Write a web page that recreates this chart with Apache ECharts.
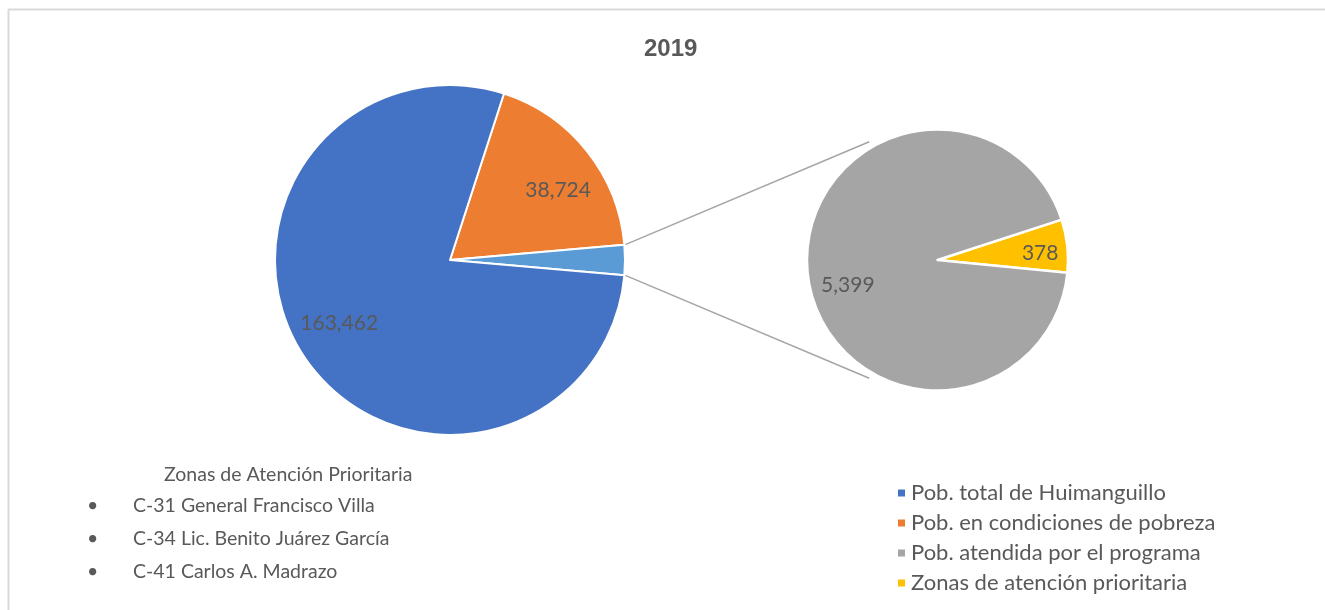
<!DOCTYPE html>
<html>
<head>
<meta charset="utf-8">
<script src="https://cdn.jsdelivr.net/npm/echarts@6/dist/echarts.min.js"></script>
<style>
  html, body { margin: 0; padding: 0; background: #ffffff; }
  #chart { width: 1325px; height: 610px; }
</style>
</head>
<body>
<div id="chart"></div>
<script>
// Population breakdown, Huimanguillo 2019
const titleText = '2019';
const categories = [
  'Pob. total de Huimanguillo',
  'Pob. en condiciones de pobreza',
  'Pob. atendida por el programa',
  'Zonas de atención prioritaria'
];
const primaryValues = [163462, 38724];      // total, pobreza
const secondaryValues = [5399, 378];        // atendida, zonas
const groupName = 'Pob. atendida y zonas';
const zonesHeading = 'Zonas de Atención Prioritaria';
const zoneItems = [
  'C-31 General Francisco Villa',
  'C-34 Lic. Benito Juárez García',
  'C-41 Carlos A. Madrazo'
];

const colors = {
  total: '#4472C4',
  pobreza: '#ED7D31',
  group: '#5B9BD5',
  atendida: '#A5A5A5',
  zonas: '#FFC000'
};
const textColor = '#595959';
const font = 'Lato, "Open Sans", sans-serif';

// geometry of the two pies
const mainCenter = [450, 260], mainR = 175;
const subCenter = [937.5, 260], subR = 130.5;

const groupValue = secondaryValues[0] + secondaryValues[1];
const mainTotal = primaryValues[0] + primaryValues[1] + groupValue;
const pobDeg = primaryValues[1] / mainTotal * 360;
const groupDeg = groupValue / mainTotal * 360;
// the grouped slice is centred on the 3 o'clock direction
const mainStart = pobDeg + groupDeg / 2;
const subStart = 18;

const fmt = v => v.toLocaleString('en-US');

const mainData = [
  { name: categories[1], value: primaryValues[1], itemStyle: { color: colors.pobreza } },
  { name: groupName, value: groupValue, itemStyle: { color: colors.group }, label: { show: false } },
  { name: categories[0], value: primaryValues[0], itemStyle: { color: colors.total } }
];
const subData = [
  { name: categories[3], value: secondaryValues[1], itemStyle: { color: colors.zonas } },
  { name: categories[2], value: secondaryValues[0], itemStyle: { color: colors.atendida } }
];

// best-fit nudges for the value labels, per slice
const mainNudge = [[6, 12], [0, 0], [-2, -9]];
const subNudge = [[3, 4], [10, 14]];

function labelOverlay(center, radius, start, data, nudge) {
  return {
    type: 'pie',
    center: center,
    radius: radius,
    startAngle: start,
    silent: true,
    legendHoverLink: false,
    z: 5,
    animation: false,
    itemStyle: { color: 'rgba(0,0,0,0)', borderWidth: 0 },
    label: {
      show: true,
      position: 'inside',
      formatter: p => fmt(p.value),
      color: textColor,
      fontFamily: font,
      fontSize: 21
    },
    labelLayout: p => ({ dx: nudge[p.dataIndex][0], dy: nudge[p.dataIndex][1] }),
    emphasis: { disabled: true },
    data: data.map(d => ({ name: d.name, value: d.value, label: d.label }))
  };
}

// connector lines from the grouped slice edges to the secondary pie
const rad = Math.PI / 180;
const halfGroup = groupDeg / 2 * rad;
const connAngle = 120 * rad;
const connectors = [1, -1].map(s => ({
  type: 'line',
  shape: {
    x1: mainCenter[0] + (mainR + 1) * Math.cos(halfGroup),
    y1: mainCenter[1] - s * (mainR + 1) * Math.sin(halfGroup),
    x2: subCenter[0] + (subR + 6) * Math.cos(connAngle),
    y2: subCenter[1] - s * (subR + 6) * Math.sin(connAngle)
  },
  style: { stroke: '#A5A5A5', lineWidth: 1.5 },
  z: 0
}));

const zoneFont = '19.5px ' + font;
const zoneText = [
  { type: 'text', left: 164, top: 465, style: { text: zonesHeading, fill: textColor, font: zoneFont } }
].concat(zoneItems.flatMap((t, i) => [
  { type: 'text', left: 87, top: 496 + i * 33, style: { text: '•', fill: textColor, font: zoneFont } },
  { type: 'text', left: 133, top: 496 + i * 33, style: { text: t, fill: textColor, font: zoneFont } }
]));

const chart = echarts.init(document.getElementById('chart'), null, { renderer: 'canvas' });
chart.setOption({
  backgroundColor: '#ffffff',
  animation: false,
  title: {
    text: titleText,
    left: 639,
    top: 32,
    textStyle: { color: textColor, fontSize: 24, fontWeight: 'bold', fontFamily: '"Liberation Sans", Arial, sans-serif' }
  },
  legend: {
    data: categories,
    orient: 'vertical',
    left: 891,
    top: 477,
    itemWidth: 9,
    itemHeight: 9,
    itemGap: 8,
    icon: 'rect',
    selectedMode: false,
    textStyle: { color: textColor, fontSize: 22, fontFamily: font }
  },
  graphic: [
    { type: 'line', shape: { x1: 8, y1: 9.5, x2: 1325, y2: 9.5 }, style: { stroke: '#D9D9D9', lineWidth: 2 } },
    { type: 'line', shape: { x1: 8.5, y1: 9, x2: 8.5, y2: 610 }, style: { stroke: '#D9D9D9', lineWidth: 2 } }
  ].concat(connectors, zoneText),
  series: [
    {
      type: 'pie',
      center: mainCenter,
      radius: [0, mainR],
      startAngle: mainStart,
      label: { show: false },
      labelLine: { show: false },
      itemStyle: { borderColor: '#ffffff', borderWidth: 2 },
      emphasis: { scale: false },
      data: mainData
    },
    {
      type: 'pie',
      center: subCenter,
      radius: [0, subR],
      startAngle: subStart,
      label: { show: false },
      labelLine: { show: false },
      itemStyle: { borderColor: '#ffffff', borderWidth: 2.5 },
      emphasis: { scale: false },
      data: subData
    },
    labelOverlay(mainCenter, [80, mainR], mainStart, mainData, mainNudge),
    labelOverlay(subCenter, [64, subR], subStart, subData, subNudge)
  ]
});
</script>
</body>
</html>
